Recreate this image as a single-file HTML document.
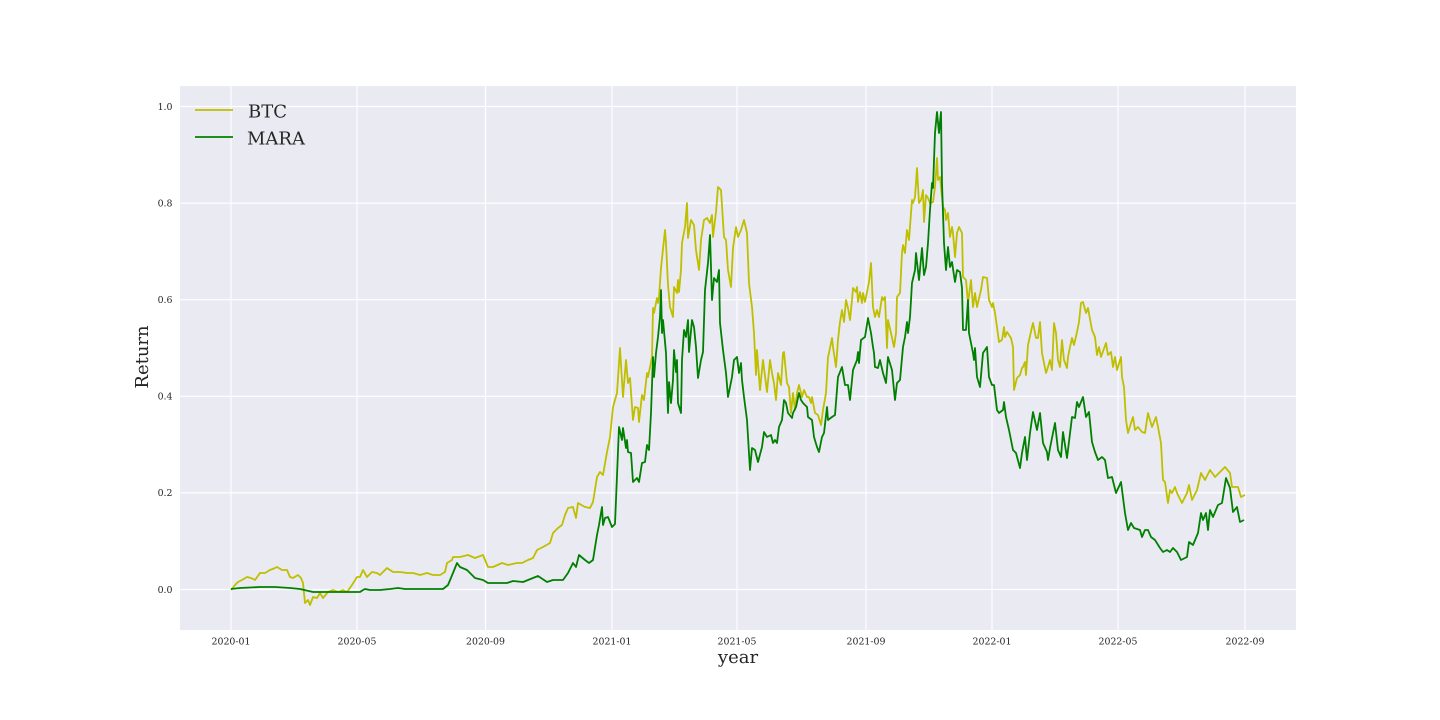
<!DOCTYPE html>
<html><head><meta charset="utf-8"><style>
html,body{margin:0;padding:0;background:#fff;}
svg{display:block;}
text{font-family:"DejaVu Serif","Liberation Serif",serif;fill:#262626;}
</style></head><body>
<svg width="1440" height="720" viewBox="0 0 1440 720" xmlns="http://www.w3.org/2000/svg">
<rect x="0" y="0" width="1440" height="720" fill="#ffffff"/>
<rect x="180" y="86" width="1116" height="544" fill="#EAEAF2"/>
<g stroke="#ffffff" stroke-width="1.2">
<line x1="231" y1="86" x2="231" y2="630"/>
<line x1="357" y1="86" x2="357" y2="630"/>
<line x1="485.5" y1="86" x2="485.5" y2="630"/>
<line x1="612" y1="86" x2="612" y2="630"/>
<line x1="737" y1="86" x2="737" y2="630"/>
<line x1="866" y1="86" x2="866" y2="630"/>
<line x1="992" y1="86" x2="992" y2="630"/>
<line x1="1118" y1="86" x2="1118" y2="630"/>
<line x1="1245" y1="86" x2="1245" y2="630"/>
<line x1="180" y1="106.5" x2="1296" y2="106.5"/>
<line x1="180" y1="203.1" x2="1296" y2="203.1"/>
<line x1="180" y1="299.7" x2="1296" y2="299.7"/>
<line x1="180" y1="396.3" x2="1296" y2="396.3"/>
<line x1="180" y1="492.9" x2="1296" y2="492.9"/>
<line x1="180" y1="589.5" x2="1296" y2="589.5"/>
</g>
<polyline fill="none" stroke="#BFBF00" stroke-width="1.8" stroke-linejoin="round" points="231,590 235,585 238,582 242,580 247,577 251,578 255,580 260,573 265,573 270,570 275,568 277,567 282,570 287,570 290,577 293,578 298,575 301,578 303,583 305,603 308,600 310,605 313,597 317,598 320,593 323,598 328,592 333,590 338,592 343,590 347,592 352,585 357,577 360,577 363,570 367,577 372,572 377,573 380,575 387,568 393,572 400,572 407,573 413,573 420,575 427,573 433,575 440,575 445,572 447,563 452,560 453,557 460,557 468,555 475,558 483,555 488,567 493,567 502,563 508,565 517,563 522,563 528,560 533,558 537,550 543,547 550,543 553,533 558,528 562,525 565,515 568,508 573,507 576,518 578,503 585,507 590,508 593,502 597,477 600,472 603,475 607,452 610,437 613,407 617,393 620,348 623,397 626,360 628,383 630,378 633,420 635,407 638,408 639,422 642,395 644,400 647,373 648,377 652,357 653,308 654,313 657,298 658,303 659,297 661,268 665,230 666,243 668,285 670,307 673,317 674,287 677,293 678,280 679,292 681,270 682,243 685,227 687,203 688,238 691,220 694,225 696,250 699,270 701,240 704,220 707,218 710,223 712,215 713,237 716,212 718,187 721,190 724,237 726,240 728,270 731,287 733,248 736,227 738,237 741,230 744,220 747,233 749,283 752,307 754,333 756,375 757,350 760,390 763,360 767,392 770,360 772,373 774,383 776,400 778,373 781,385 783,353 784,352 787,383 789,387 791,413 793,393 795,410 797,393 799,385 802,397 804,390 807,397 809,397 811,403 812,397 815,413 818,415 821,425 823,410 826,393 828,357 829,353 832,338 833,347 836,367 838,340 840,322 842,310 844,322 846,300 848,308 850,320 852,300 853,288 856,292 857,287 858,302 860,292 862,303 863,293 865,302 867,292 869,282 871,263 873,307 875,317 877,310 879,317 882,297 883,300 885,297 887,348 888,320 891,333 894,347 896,333 897,297 900,293 902,253 903,245 905,253 907,230 909,240 912,200 913,203 915,197 917,168 919,203 921,200 923,190 924,222 926,195 928,198 930,203 933,202 935,187 937,158 938,180 940,177 943,207 945,210 946,220 948,213 950,237 952,227 953,233 955,257 957,233 959,227 962,233 963,277 966,280 968,303 971,280 973,307 975,293 977,307 981,290 983,277 987,278 989,300 992,307 993,303 995,313 997,327 999,342 1002,340 1004,327 1005,337 1007,332 1011,338 1013,347 1014,390 1017,378 1020,375 1022,368 1023,367 1025,362 1026,375 1028,345 1032,327 1033,323 1036,338 1038,338 1040,322 1042,353 1046,373 1048,367 1050,360 1052,370 1054,323 1056,333 1058,360 1060,367 1062,340 1064,360 1067,368 1068,357 1070,347 1072,338 1074,345 1077,332 1079,322 1081,303 1083,302 1086,313 1088,308 1092,330 1095,337 1097,355 1099,347 1101,357 1106,343 1108,355 1111,352 1113,367 1115,357 1117,370 1121,357 1122,377 1124,387 1126,420 1128,433 1131,423 1133,417 1135,430 1138,427 1142,432 1145,433 1148,413 1152,427 1156,417 1158,427 1161,443 1163,480 1165,482 1168,503 1170,490 1172,493 1175,487 1177,493 1182,503 1187,493 1189,485 1192,500 1197,490 1201,473 1205,480 1210,470 1215,477 1220,472 1225,467 1230,473 1232,487 1238,487 1241,497 1245,495"/>
<polyline fill="none" stroke="#008000" stroke-width="1.8" stroke-linejoin="round" points="231,589 240,588 260,587 275,587 290,588 300,589 313,592 340,592 360,592 363,590 365,589 370,590 380,590 390,589 398,588 405,589 413,589 443,589 448,585 453,573 457,563 460,567 467,570 475,578 483,580 488,583 507,583 513,581 523,582 528,580 538,576 547,582 553,580 563,580 568,573 573,563 576,567 579,555 585,560 589,563 593,560 597,535 599,525 602,507 603,525 605,518 608,517 612,527 615,524 619,427 622,440 623,428 626,448 627,440 628,452 631,453 633,482 637,478 639,482 642,463 645,462 647,445 649,450 651,413 653,357 654,377 656,353 658,337 660,317 661,290 662,333 663,320 666,353 668,413 669,382 671,403 673,380 674,350 676,372 677,360 678,403 681,413 682,360 684,330 686,337 688,320 689,352 692,320 694,327 696,347 698,378 701,360 703,352 705,290 708,263 710,235 712,300 714,278 717,282 719,270 720,323 723,350 726,373 728,397 732,377 734,360 737,357 739,373 741,363 742,380 744,397 747,420 750,470 752,448 755,450 758,462 762,447 764,432 767,437 771,435 773,443 775,440 777,443 779,427 782,420 784,400 786,403 788,413 792,418 793,413 796,407 799,393 801,400 803,403 807,407 808,417 812,420 814,437 817,447 819,452 822,437 824,433 827,407 828,420 832,417 835,415 838,377 842,367 845,385 848,385 850,400 853,370 857,360 858,352 859,363 861,340 865,337 868,318 871,333 873,347 874,353 875,367 878,368 880,360 883,373 886,383 888,357 892,370 895,400 897,383 900,380 903,347 905,337 907,322 908,333 910,317 912,283 915,270 916,253 919,280 922,248 924,275 926,267 928,243 930,210 932,183 933,188 935,133 937,112 939,133 941,112 942,183 944,243 946,270 948,247 950,267 952,262 955,282 957,270 960,272 962,288 963,330 966,330 968,300 969,333 973,353 974,360 975,348 977,377 980,387 983,353 987,347 989,377 992,385 994,385 997,410 999,413 1003,410 1004,402 1006,417 1009,430 1013,450 1016,453 1020,468 1022,453 1025,437 1027,460 1030,433 1033,412 1037,430 1040,413 1043,443 1047,452 1048,460 1050,448 1055,423 1058,450 1061,457 1063,432 1067,458 1072,417 1075,418 1077,402 1079,407 1083,397 1086,417 1089,412 1092,442 1095,452 1098,460 1102,457 1105,460 1108,478 1112,477 1116,493 1121,482 1125,513 1128,530 1131,523 1134,528 1140,530 1142,537 1145,530 1148,530 1151,537 1155,540 1160,548 1163,552 1167,550 1170,552 1173,548 1177,552 1181,560 1187,557 1189,542 1193,545 1198,533 1201,513 1203,520 1206,513 1208,530 1210,510 1213,517 1218,505 1222,503 1226,478 1230,488 1233,512 1237,507 1240,522 1244,520"/>
<g font-size="9.4" text-anchor="end">
<text x="172.5" y="109.8">1.0</text>
<text x="172.5" y="206.4">0.8</text>
<text x="172.5" y="303">0.6</text>
<text x="172.5" y="399.6">0.4</text>
<text x="172.5" y="496.2">0.2</text>
<text x="172.5" y="592.8">0.0</text>
</g>
<g font-size="9.4" text-anchor="middle">
<text x="231" y="644.5">2020-01</text>
<text x="357" y="644.5">2020-05</text>
<text x="485.5" y="644.5">2020-09</text>
<text x="612" y="644.5">2021-01</text>
<text x="737" y="644.5">2021-05</text>
<text x="866" y="644.5">2021-09</text>
<text x="992" y="644.5">2022-01</text>
<text x="1118" y="644.5">2022-05</text>
<text x="1245" y="644.5">2022-09</text>
</g>
<text x="738" y="663" font-size="18" text-anchor="middle">year</text>
<text transform="translate(148,357) rotate(-90)" font-size="18" text-anchor="middle">Return</text>
<line x1="195" y1="110" x2="233" y2="110" stroke="#BFBF00" stroke-width="1.8"/>
<line x1="195" y1="137" x2="233" y2="137" stroke="#008000" stroke-width="1.8"/>
<text x="248" y="117.5" font-size="18">BTC</text>
<text x="247" y="144.5" font-size="18">MARA</text>
</svg>
</body></html>
